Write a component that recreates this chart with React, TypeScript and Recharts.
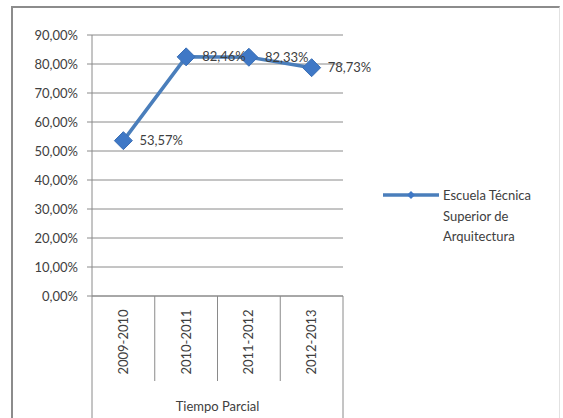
import {
  LineChart,
  Line,
  XAxis,
  YAxis,
  CartesianGrid,
  LabelList,
} from "recharts";

const categories = ["2009-2010", "2010-2011", "2011-2012", "2012-2013"];
const values = [0.5357, 0.8246, 0.8233, 0.7873];
const yTicks = [0, 0.1, 0.2, 0.3, 0.4, 0.5, 0.6, 0.7, 0.8, 0.9];
const groupLabel = "Tiempo Parcial";
const legendLines = ["Escuela Técnica", "Superior de", "Arquitectura"];

const data = categories.map((c, i) => ({ year: c, value: values[i] }));

const W = 563;
const H = 418;
const margin = { top: 35, right: 220, left: 12, bottom: 0 };
const yAxisW = 80;
const xAxisH = 122;
const band = (W - margin.left - yAxisW - margin.right) / categories.length;

const FONT = "Lato, 'Open Sans', sans-serif";
const TEXT = "#404040";
const GRID = "#8a8a8a";
const BLUE = "#4a7ebb";

const pct = (v: number) => (v * 100).toFixed(2).replace(".", ",") + "%";

function XTick(props: any) {
  const { x, y, payload, index } = props;
  const half = band / 2;
  const last = index === categories.length - 1;
  return (
    <g>
      <line x1={x - half} y1={y} x2={x - half} y2={y + (index === 0 ? xAxisH : 85)} stroke={GRID} />
      {last && <line x1={x + half} y1={y} x2={x + half} y2={y + xAxisH} stroke={GRID} />}
      <text
        transform={`translate(${x + 4.5},${y + 46}) rotate(-90)`}
        textAnchor="middle"
        fontSize={13}
        fontFamily={FONT}
        fill={TEXT}
      >
        {payload.value}
      </text>
    </g>
  );
}

function Diamond(props: any) {
  const { cx, cy } = props;
  if (cx == null || cy == null) return null;
  const r = 9;
  return (
    <polygon
      points={`${cx},${cy - r} ${cx + r},${cy} ${cx},${cy + r} ${cx - r},${cy}`}
      fill="#3f78c6"
      stroke="#3a6fb5"
      strokeWidth={1}
    />
  );
}

export default function App() {
  return (
    <div
      style={{
        position: "absolute",
        left: 0,
        top: 0,
        width: W,
        height: H,
        overflow: "hidden",
        background: "#fff",
        fontFamily: FONT,
      }}
    >
      <div
        style={{
          position: "absolute",
          left: 11,
          top: 6,
          width: 546,
          height: 430,
          borderTop: "2px solid #8c8c8c",
          borderLeft: "2px solid #8c8c8c",
          borderRight: "1px solid #e2e2e2",
        }}
      />
      <div style={{ position: "absolute", left: 0, top: 0 }}>
        <LineChart width={W} height={H} data={data} margin={margin}>
          <CartesianGrid vertical={false} stroke={GRID} />
          <XAxis
            dataKey="year"
            scale="band"
            height={xAxisH}
            axisLine={{ stroke: GRID }}
            tickLine={false}
            tickSize={0}
            tickMargin={0}
            interval={0}
            tick={<XTick />}
            label={{
              value: groupLabel,
              position: "insideBottom",
              offset: 7,
              fill: TEXT,
              fontSize: 13,
              fontFamily: FONT,
            }}
          />
          <YAxis
            width={yAxisW}
            domain={[0, 0.9]}
            ticks={yTicks}
            tickFormatter={pct}
            axisLine={{ stroke: GRID }}
            tickLine={{ stroke: GRID }}
            tickSize={5}
            tickMargin={9}
            tick={{ fill: TEXT, fontSize: 13, fontFamily: FONT }}
          />
          <Line
            type="linear"
            dataKey="value"
            stroke={BLUE}
            strokeWidth={3.5}
            dot={<Diamond />}
            activeDot={false}
            isAnimationActive={false}
          >
            <LabelList
              dataKey="value"
              position="right"
              offset={16}
              formatter={(v: any) => pct(Number(v))}
              fill={TEXT}
              fontSize={13}
              fontFamily={FONT}
            />
          </Line>
        </LineChart>
      </div>
      <div style={{ position: "absolute", left: 383, top: 185 }}>
        <svg width={58} height={20} style={{ position: "absolute", left: 0, top: 0 }}>
          <line x1={0} y1={10} x2={56} y2={10} stroke={BLUE} strokeWidth={3.5} />
          <polygon points="28,6 32,10 28,14 24,10" fill="#3f78c6" />
        </svg>
        <div
          style={{
            position: "absolute",
            left: 60,
            top: 0,
            fontSize: 13,
            lineHeight: "20.5px",
            color: TEXT,
            whiteSpace: "nowrap",
          }}
        >
          {legendLines.map((l) => (
            <div key={l}>{l}</div>
          ))}
        </div>
      </div>
    </div>
  );
}
